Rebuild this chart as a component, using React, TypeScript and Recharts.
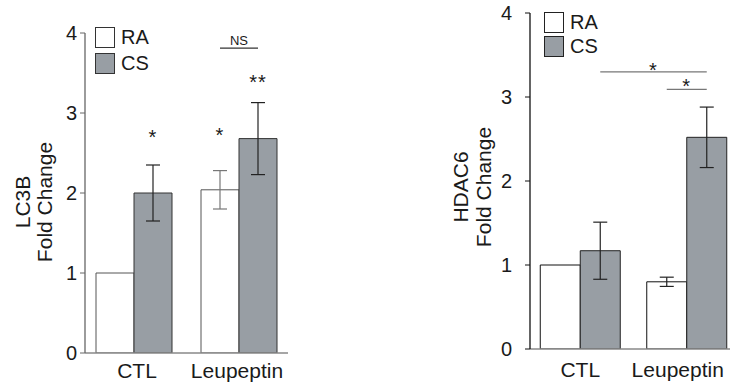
import { BarChart, Bar, XAxis, YAxis, ErrorBar, LabelList } from "recharts"

const categories = ["CTL", "Leupeptin"]
const seriesNames = ["RA", "CS"]
const seriesFills = ["#ffffff", "#989ea4"]
const yTicks = [0, 1, 2, 3, 4]

// LC3B panel
const lc3bRA = [1.0, 2.04]
const lc3bRAErr = [0, 0.24]
const lc3bCS = [2.0, 2.68]
const lc3bCSErr = [0.35, 0.45]
const lc3bRAMarks = ["", "*"]
const lc3bRAMarkAt = [0, 2.79]
const lc3bCSMarks = ["*", "**"]
const lc3bCSMarkAt = [2.76, 3.45]

// HDAC6 panel
const hdacRA = [1.0, 0.8]
const hdacRAErr = [0, 0.055]
const hdacCS = [1.17, 2.52]
const hdacCSErr = [0.34, 0.36]
const hdacRAMarks = ["", ""]
const hdacRAMarkAt = [0, 0]
const hdacCSMarks = ["", ""]
const hdacCSMarkAt = [0, 0]

// comparison brackets, ends are [series, category index]
type End = ["ra" | "cs", number]
interface Bracket {
  from: End
  to: End
  at: number
  text: string
  textAt: number
}
const lc3bBrackets: Bracket[] = [{ from: ["ra", 1], to: ["cs", 1], at: 3.81, text: "NS", textAt: 3.91 }]
const hdacBrackets: Bracket[] = [
  { from: ["cs", 0], to: ["cs", 1], at: 3.3, text: "*", textAt: 3.38 },
  { from: ["ra", 1], to: ["cs", 1], at: 3.09, text: "*", textAt: 3.19 },
]

const FONT = "'Liberation Sans', Arial, Helvetica, sans-serif"
const INK = "#1a1a1a"

interface Row {
  name: string
  ra: number
  raErr: number
  cs: number
  csErr: number
}

const makeRows = (ra: number[], raErr: number[], cs: number[], csErr: number[]): Row[] =>
  categories.map((name, i) => ({ name, ra: ra[i], raErr: raErr[i], cs: cs[i], csErr: csErr[i] }))

const lc3bRows = makeRows(lc3bRA, lc3bRAErr, lc3bCS, lc3bCSErr)
const hdacRows = makeRows(hdacRA, hdacRAErr, hdacCS, hdacCSErr)

const markText = (text: string, x: number, y: number) => {
  const isNS = text === "NS"
  return (
    <text
      x={x}
      y={y}
      dy={isNS ? "0.36em" : "0.6em"}
      textAnchor="middle"
      fontSize={isNS ? 13 : 20}
      fontFamily={FONT}
      fill={INK}
      letterSpacing={isNS ? 0 : 1}
    >
      {text}
    </text>
  )
}

const renderMarks = (rows: Row[], key: "ra" | "cs", marks: string[], markAt: number[]) => (props: any) => {
  const i = categories.indexOf(props.value)
  if (i < 0 || !marks[i]) return null
  const vb = props.viewBox ?? props
  const unit = vb.height / rows[i][key]
  const base = vb.y + vb.height
  return markText(marks[i], vb.x + vb.width / 2, base - markAt[i] * unit)
}

const renderBrackets = (rows: Row[], brackets: Bracket[], gap: number, color: string) => (props: any) => {
  const i = categories.indexOf(props.value)
  if (i !== categories.length - 1) return null
  const vb = props.viewBox ?? props
  const unit = vb.height / rows[i].cs
  const base = vb.y + vb.height
  const band = 2 * vb.width + 2 * gap
  const cx = ([s, j]: End) => vb.x + vb.width / 2 - (i - j) * band - (s === "ra" ? vb.width : 0)
  return (
    <g>
      {brackets.map((b, k) => {
        const x1 = cx(b.from)
        const x2 = cx(b.to)
        return (
          <g key={k}>
            <line x1={x1} x2={x2} y1={base - b.at * unit} y2={base - b.at * unit} stroke={color} strokeWidth={1.2} />
            {markText(b.text, (x1 + x2) / 2, base - b.textAt * unit)}
          </g>
        )
      })}
    </g>
  )
}

const CategoryTick = (props: any) => {
  const { x, y, payload, index, shifts } = props
  return (
    <text
      x={x + (shifts[index] ?? 0)}
      y={y}
      dy="0.71em"
      textAnchor="middle"
      fontSize={21}
      fontFamily={FONT}
      fill={INK}
    >
      {payload.value}
    </text>
  )
}

interface PanelProps {
  rows: Row[]
  left: number
  width: number
  margin: { top: number; right: number; bottom: number; left: number }
  xAxisHeight: number
  yAxisWidth: number
  xPadding: { left: number; right: number }
  gap: number
  yTickMargin: number
  catMargin: number
  catShift: number[]
  title: string[]
  titleDx: number
  titleDy: number
  titleGap: number
  axisColor: string
  baseColor: string
  raStroke: string
  csStroke: string
  raErrColor: string
  csErrColor: string
  raMarks: string[]
  raMarkAt: number[]
  csMarks: string[]
  csMarkAt: number[]
  brackets: Bracket[]
  bracketColor: string
}

function Panel(p: PanelProps) {
  return (
    <div style={{ position: "absolute", left: p.left, top: 0 }}>
      <BarChart
        width={p.width}
        height={388}
        data={p.rows}
        margin={p.margin}
        barCategoryGap={p.gap}
        barGap={0}
      >
        <XAxis
          dataKey="name"
          height={p.xAxisHeight}
          padding={p.xPadding}
          axisLine={{ stroke: p.baseColor, strokeWidth: 1.3 }}
          tickLine={false}
          tickSize={0}
          tickMargin={p.catMargin}
          interval={0}
          tick={(tp: any) => <CategoryTick {...tp} shifts={p.catShift} />}
        />
        <YAxis
          width={p.yAxisWidth}
          domain={[0, 4]}
          ticks={yTicks}
          allowDataOverflow
          axisLine={{ stroke: p.axisColor, strokeWidth: 1.3 }}
          tickLine={{ stroke: p.axisColor }}
          tickSize={5}
          tickMargin={p.yTickMargin}
          tick={{ fontSize: 20, fontFamily: FONT, fill: INK }}
          label={(lp: any) => {
            const vb = lp.viewBox
            const cx = vb.x + p.titleDx
            const cy = vb.y + vb.height / 2 + p.titleDy
            return (
              <text
                transform={`translate(${cx},${cy}) rotate(-90)`}
                textAnchor="middle"
                fontSize={21}
                fontFamily={FONT}
                fill={INK}
              >
                {p.title.map((line, i) => (
                  <tspan key={line} x={0} y={i * p.titleGap}>
                    {line}
                  </tspan>
                ))}
              </text>
            )
          }}
        />
        <Bar dataKey="ra" name={seriesNames[0]} fill={seriesFills[0]} stroke={p.raStroke} strokeWidth={1} isAnimationActive={false}>
          <ErrorBar dataKey="raErr" width={7} stroke={p.raErrColor} strokeWidth={1.2} />
          <LabelList dataKey="name" content={renderMarks(p.rows, "ra", p.raMarks, p.raMarkAt)} />
        </Bar>
        <Bar dataKey="cs" name={seriesNames[1]} fill={seriesFills[1]} stroke={p.csStroke} strokeWidth={1} isAnimationActive={false}>
          <ErrorBar dataKey="csErr" width={7} stroke={p.csErrColor} strokeWidth={1.2} />
          <LabelList dataKey="name" content={renderMarks(p.rows, "cs", p.csMarks, p.csMarkAt)} />
          <LabelList dataKey="name" content={renderBrackets(p.rows, p.brackets, p.gap, p.bracketColor)} />
        </Bar>
      </BarChart>
    </div>
  )
}

function SeriesKey({ left, top, rowGap, border }: { left: number; top: number; rowGap: number; border: string }) {
  return (
    <div style={{ position: "absolute", left, top, fontFamily: FONT }}>
      {seriesNames.map((name, i) => (
        <div key={name} style={{ display: "flex", alignItems: "center", height: 20, marginBottom: rowGap }}>
          <div style={{ width: 18, height: 19, border: `1px solid ${border}`, background: seriesFills[i] }} />
          <span style={{ marginLeft: 6, fontSize: 20, lineHeight: "20px", color: INK }}>{name}</span>
        </div>
      ))}
    </div>
  )
}

export default function App() {
  return (
    <div
      style={{
        position: "fixed",
        left: 0,
        top: 0,
        width: 730,
        height: 388,
        overflow: "hidden",
        background: "#fff",
      }}
    >
      <Panel
        rows={lc3bRows}
        left={0}
        width={288}
        margin={{ top: 33, right: 0, bottom: 0, left: 0 }}
        xAxisHeight={35}
        yAxisWidth={85}
        xPadding={{ left: -3.5, right: -3.5 }}
        gap={14.5}
        yTickMargin={3}
        catMargin={10}
        catShift={[3, -2]}
        title={["LC3B", "Fold Change"]}
        titleDx={30}
        titleDy={9}
        titleGap={22}
        axisColor="#666"
        baseColor="#888"
        raStroke="#555"
        csStroke="#333"
        raErrColor="#777"
        csErrColor="#222"
        raMarks={lc3bRAMarks}
        raMarkAt={lc3bRAMarkAt}
        csMarks={lc3bCSMarks}
        csMarkAt={lc3bCSMarkAt}
        brackets={lc3bBrackets}
        bracketColor="#333"
      />
      <Panel
        rows={hdacRows}
        left={440}
        width={300}
        margin={{ top: 13, right: 0, bottom: 0, left: 10 }}
        xAxisHeight={39}
        yAxisWidth={80}
        xPadding={{ left: -3, right: 0 }}
        gap={13.25}
        yTickMargin={13}
        catMargin={13}
        catShift={[0, -9]}
        title={["HDAC6", "Fold Change"]}
        titleDx={18}
        titleDy={6}
        titleGap={23}
        axisColor="#111"
        baseColor="#888"
        raStroke="#111"
        csStroke="#222"
        raErrColor="#222"
        csErrColor="#222"
        raMarks={hdacRAMarks}
        raMarkAt={hdacRAMarkAt}
        csMarks={hdacCSMarks}
        csMarkAt={hdacCSMarkAt}
        brackets={hdacBrackets}
        bracketColor="#777"
      />
      <SeriesKey left={95} top={27} rowGap={6} border="#333" />
      <SeriesKey left={544} top={12} rowGap={4} border="#222" />
    </div>
  )
}
